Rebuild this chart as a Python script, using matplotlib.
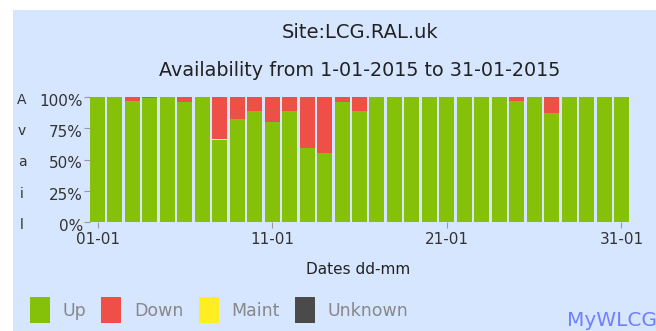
import matplotlib.pyplot as plt
import matplotlib.transforms as mtransforms
from matplotlib.patches import Rectangle

# daily availability for the site, percent of each day
days = list(range(1, 32))
up = [100, 100, 96.5, 99, 100, 96, 100, 66, 82, 89, 80, 89, 59, 55, 96, 89,
      100, 100, 100, 100, 100, 100, 100, 100, 97, 100, 87, 100, 100, 100, 100]
down = [100 - u for u in up]
maint = [0] * 31
unknown = [0] * 31

xtick_days = [1, 11, 21, 31]
xtick_labels = ["01-01", "11-01", "21-01", "31-01"]
ytick_vals = [0, 25, 50, 75, 100]
ytick_labels = ["0%", "25%", "50%", "75%", "100%"]
ylabel_text = "Avail"

BG = "#d6e6ff"
COLORS = {"Up": "#86c10a", "Down": "#ee5048", "Maint": "#ffee22", "Unknown": "#4a4a4a"}

plt.rcParams["font.family"] = ["DejaVu Sans"]

fig = plt.figure(figsize=(6.56, 3.31), dpi=100)
fig.patch.set_facecolor("white")
fig.patches.append(Rectangle((13 / 656, 0), 1, (331 - 10) / 331,
                             transform=fig.transFigure, facecolor=BG,
                             edgecolor="none", zorder=-10))

ax = fig.add_axes([90 / 656, 1 - 222 / 331, 539 / 656, 125 / 331])
ax.set_facecolor(BG)

w = 0.86
b_up = ax.bar(days, up, width=w, color=COLORS["Up"], label="Up")
b_down = ax.bar(days, down, width=w, bottom=up, color=COLORS["Down"], label="Down")
tops = [u + d for u, d in zip(up, down)]
b_maint = ax.bar(days, maint, width=w, bottom=tops, color=COLORS["Maint"], label="Maint")
tops = [t + m for t, m in zip(tops, maint)]
b_unk = ax.bar(days, unknown, width=w, bottom=tops, color=COLORS["Unknown"], label="Unknown")

ax.set_xlim(0.57, 31.43)
ax.set_ylim(0, 100)
for s in ax.spines.values():
    s.set_visible(False)

ax.set_xticks(xtick_days)
ax.set_xticklabels(xtick_labels)
ax.set_yticks(ytick_vals)
ax.set_yticklabels(ytick_labels)
ax.tick_params(axis="both", colors="#999999", labelcolor="#333333",
               labelsize=11, length=4, width=0.8, pad=1)
ax.tick_params(axis="x", pad=3)

# y labels sit a little below their tick marks
shift = mtransforms.ScaledTranslation(0, -3 / 100, fig.dpi_scale_trans)
for lbl in ax.get_yticklabels():
    lbl.set_transform(lbl.get_transform() + shift)

# vertical axis title, one letter per tick row
trans = mtransforms.blended_transform_factory(fig.transFigure, ax.transData) + shift
for ch, yv in zip(ylabel_text, ytick_vals[::-1]):
    ax.text(22 / 656, yv, ch, transform=trans, ha="center", va="center",
            fontsize=10, color="#333333")

fig.text(360 / 656, 1 - 33 / 331, "Site:LCG.RAL.uk", ha="center", va="center",
         fontsize=14, color="#222222")
fig.text(360 / 656, 1 - 70 / 331, "Availability from 1-01-2015 to 31-01-2015",
         ha="center", va="center", fontsize=13.8, color="#222222")
fig.text(358 / 656, 1 - 270 / 331, "Dates dd-mm", ha="center", va="center",
         fontsize=11, color="#222222")

fig.legend(handles=[b_up, b_down, b_maint, b_unk],
           labels=["Up", "Down", "Maint", "Unknown"],
           loc="center left", bbox_to_anchor=(30 / 656, 1 - 310 / 331),
           ncol=4, frameon=False, fontsize=12.5, labelcolor="#888888",
           handlelength=1.15, handleheight=1.9, handletextpad=0.75,
           columnspacing=0.85, borderaxespad=0, borderpad=0)

fig.text(567 / 656, 1 - 320 / 331, "MyWLCG", ha="left", va="center",
         fontsize=14.5, color="#7080ff")

fig.savefig("out.png", dpi=100, facecolor=fig.get_facecolor())
